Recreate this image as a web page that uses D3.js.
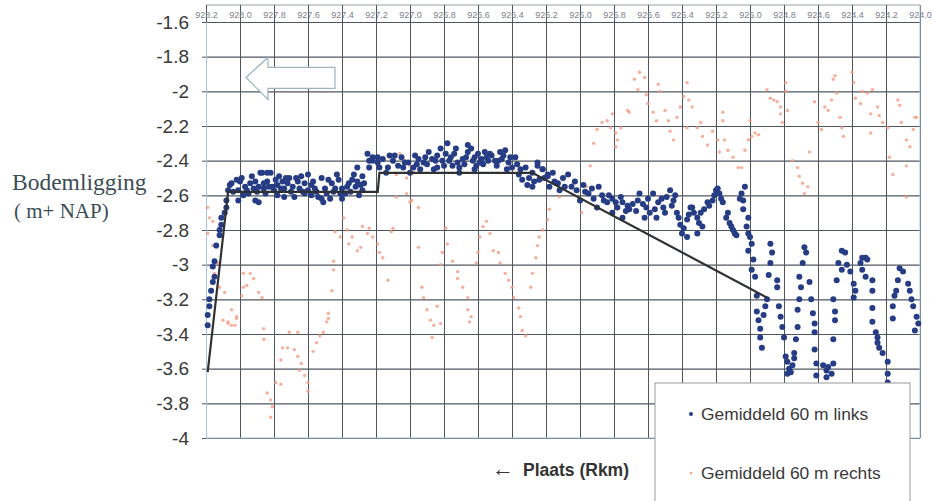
<!DOCTYPE html>
<html>
<head>
<meta charset="utf-8">
<script src="https://cdn.jsdelivr.net/npm/d3@7"></script>
<style>
  body { margin: 0; background: #fff; }
  svg { display: block; }
</style>
</head>
<body>
<svg id="chart" width="932" height="501"></svg>
<script>
// x axis: river km, decreasing to the right
const xTicks = [928.2, 928.0, 927.8, 927.6, 927.4, 927.2, 927.0, 926.8, 926.6, 926.4, 926.2,
  926.0, 925.8, 925.6, 925.4, 925.2, 925.0, 924.8, 924.6, 924.4, 924.2, 924.0];
const xTickLabels = ['928.2', '928.0', '927.8', '927.6', '927.4', '927.2', '927.0', '926.8', '926.6', '926.4', '926.2',
  '926.0', '925.8', '925.6', '925.4', '925.2', '925.0', '924.8', '924.6', '924.4', '924.2', '924.0'];
const yTicks = [-1.6, -1.8, -2, -2.2, -2.4, -2.6, -2.8, -3, -3.2, -3.4, -3.6, -3.8, -4];
const yTickLabels = ['-1.6', '-1.8', '-2', '-2.2', '-2.4', '-2.6', '-2.8', '-3', '-3.2', '-3.4', '-3.6', '-3.8', '-4'];

const seriesNames = ['Gemiddeld 60 m links', 'Gemiddeld 60 m rechts'];

// averaged bed level line
const avgLine = [[928.19, -3.62], [928.07, -2.58], [927.19, -2.58], [927.18, -2.47], [926.28, -2.47], [924.9, -3.19]];

// Gemiddeld 60 m links  [rkm, m NAP]
const links = [
  [928.19, -3.35], [928.19, -3.29], [928.18, -3.24], [928.18, -3.20], [928.17, -3.15], [928.16, -3.10],
  [928.15, -3.07], [928.16, -3.01], [928.15, -2.98], [928.14, -2.89], [928.12, -2.83], [928.12, -2.80],
  [928.11, -2.77], [928.11, -2.73], [928.09, -2.70], [928.08, -2.67], [928.08, -2.63], [928.07, -2.57],
  [928.06, -2.54],
  [928.05, -2.53], [928.02, -2.51], [927.99, -2.50], [927.97, -2.55], [927.94, -2.53], [927.93, -2.49],
  [927.91, -2.52], [927.89, -2.55], [927.87, -2.47], [927.86, -2.53], [927.84, -2.47], [927.84, -2.52],
  [927.81, -2.55], [927.79, -2.51], [927.78, -2.54], [927.75, -2.52], [927.74, -2.56], [927.72, -2.53],
  [927.71, -2.50], [927.69, -2.55], [927.66, -2.52], [927.64, -2.49], [927.62, -2.53], [927.60, -2.48],
  [927.58, -2.54], [927.56, -2.56], [927.54, -2.61], [927.52, -2.62], [927.51, -2.64], [927.49, -2.59],
  [927.48, -2.51], [927.46, -2.53], [927.44, -2.56], [927.42, -2.51], [927.40, -2.62], [927.38, -2.59],
  [927.36, -2.53], [927.34, -2.51], [927.32, -2.55], [927.31, -2.44], [927.31, -2.52], [927.28, -2.49],
  [927.28, -2.57], [927.89, -2.64], [927.68, -2.61], [927.78, -2.60], [928.01, -2.57], [927.95, -2.59],
  [927.85, -2.59], [927.74, -2.61], [927.62, -2.59], [927.91, -2.63], [928.01, -2.63], [927.88, -2.47],
  [927.82, -2.47], [927.96, -2.57], [927.90, -2.58], [927.80, -2.57], [927.70, -2.58], [927.60, -2.57],
  [927.55, -2.58], [927.45, -2.58], [927.40, -2.56], [927.35, -2.58], [927.30, -2.60], [927.77, -2.49],
  [927.67, -2.50], [927.52, -2.50], [927.43, -2.48], [927.58, -2.60], [927.65, -2.56], [927.86, -2.56],
  [927.98, -2.60], [927.27, -2.53], [928.04, -2.58], [928.00, -2.52], [927.92, -2.56], [927.83, -2.55],
  [927.76, -2.56], [927.73, -2.50], [927.63, -2.58], [927.57, -2.52], [927.50, -2.56], [927.47, -2.62],
  [927.41, -2.59], [927.37, -2.55], [927.33, -2.48], [927.29, -2.54],
  [927.25, -2.36], [927.24, -2.40], [927.22, -2.40], [927.19, -2.38], [927.24, -2.44],
  [927.22, -2.38], [927.19, -2.41], [927.16, -2.39], [927.13, -2.44], [927.10, -2.40], [927.07, -2.43],
  [927.04, -2.44], [927.01, -2.41], [926.98, -2.44], [926.95, -2.39], [926.92, -2.41], [926.89, -2.35],
  [926.87, -2.39], [926.84, -2.37], [926.82, -2.33], [926.81, -2.40], [926.78, -2.30], [926.76, -2.38],
  [926.75, -2.43], [926.72, -2.41], [926.71, -2.44], [926.69, -2.39], [926.66, -2.35], [926.64, -2.33],
  [926.62, -2.38], [926.60, -2.36], [926.58, -2.39], [926.56, -2.35], [926.54, -2.40], [926.52, -2.37],
  [926.49, -2.43], [926.46, -2.39], [926.44, -2.34], [926.42, -2.41], [926.40, -2.44], [926.38, -2.38],
  [926.36, -2.48], [926.34, -2.51], [926.32, -2.44], [926.31, -2.54], [926.28, -2.47], [926.25, -2.43],
  [926.22, -2.45], [926.19, -2.48], [927.00, -2.47], [926.84, -2.44], [926.71, -2.47], [927.14, -2.47],
  [926.94, -2.45], [926.61, -2.43], [927.05, -2.38], [926.97, -2.37], [926.90, -2.42], [926.86, -2.45],
  [926.79, -2.36], [926.74, -2.36], [926.68, -2.42], [926.63, -2.40], [926.57, -2.42], [926.53, -2.36],
  [926.48, -2.40], [926.45, -2.37], [926.43, -2.45], [927.12, -2.37], [927.18, -2.44], [926.80, -2.43],
  [926.66, -2.31], [926.62, -2.45], [927.09, -2.37], [927.03, -2.41], [926.96, -2.42], [926.91, -2.38],
  [926.85, -2.40], [926.77, -2.40], [926.73, -2.33], [926.67, -2.38], [926.59, -2.41], [926.55, -2.38],
  [926.50, -2.40], [926.47, -2.35], [926.41, -2.38], [926.37, -2.42], [926.35, -2.45], [926.30, -2.50],
  [926.27, -2.52], [926.21, -2.50],
  [926.28, -2.55], [926.25, -2.41], [926.22, -2.45], [926.19, -2.49], [926.16, -2.47], [926.13, -2.53],
  [926.10, -2.50], [926.07, -2.48], [926.05, -2.55], [926.02, -2.57], [925.98, -2.54], [925.95, -2.59],
  [925.92, -2.62], [925.89, -2.55], [925.87, -2.60], [925.84, -2.64], [925.81, -2.62], [925.78, -2.67],
  [925.75, -2.64], [925.72, -2.66], [925.71, -2.68], [925.66, -2.63], [925.65, -2.59], [925.61, -2.67],
  [925.59, -2.70], [925.57, -2.59], [925.54, -2.64], [925.51, -2.67], [925.49, -2.61], [925.47, -2.57],
  [925.45, -2.63], [925.43, -2.70], [925.41, -2.77], [925.40, -2.82], [925.37, -2.74], [925.35, -2.67],
  [925.34, -2.67], [925.31, -2.73], [925.29, -2.70], [925.28, -2.78], [925.25, -2.64], [925.22, -2.63],
  [925.19, -2.56], [925.18, -2.59], [925.16, -2.64], [925.14, -2.73], [925.12, -2.76], [925.10, -2.80],
  [925.08, -2.83], [925.05, -2.59], [925.04, -2.63], [925.03, -2.55], [925.01, -2.73], [925.00, -2.84],
  [926.24, -2.51], [926.18, -2.55], [926.12, -2.57], [926.00, -2.63], [925.90, -2.67], [925.81, -2.70],
  [925.75, -2.73], [925.62, -2.73], [925.55, -2.73], [925.37, -2.84], [925.31, -2.82],
  [926.15, -2.52], [926.09, -2.55], [926.03, -2.52], [925.97, -2.58], [925.93, -2.56], [925.86, -2.63],
  [925.83, -2.60], [925.79, -2.64], [925.76, -2.61], [925.73, -2.69], [925.69, -2.65], [925.67, -2.69],
  [925.63, -2.65], [925.60, -2.62], [925.56, -2.68], [925.52, -2.62], [925.50, -2.70], [925.46, -2.66],
  [925.44, -2.60], [925.42, -2.73], [925.39, -2.79], [925.36, -2.71], [925.33, -2.70], [925.30, -2.76],
  [925.27, -2.68], [925.24, -2.66], [925.21, -2.60], [925.20, -2.57], [925.17, -2.62], [925.13, -2.70],
  [925.11, -2.78], [925.09, -2.82], [925.06, -2.62], [925.04, -2.68], [925.02, -2.78],
  [925.01, -2.82], [924.99, -2.88], [924.98, -2.97], [924.97, -3.07], [924.96, -3.18], [924.96, -3.27],
  [924.95, -3.32], [924.94, -3.37], [924.94, -3.42], [924.93, -3.48], [925.01, -2.92], [924.99, -3.03],
  [924.88, -2.88], [924.87, -2.93], [924.88, -2.99], [924.89, -3.06], [924.84, -3.09], [924.84, -3.13],
  [924.90, -3.20], [924.91, -3.24], [924.92, -3.29], [924.83, -3.24], [924.82, -3.30], [924.81, -3.36],
  [924.80, -3.42],
  [924.79, -3.53], [924.78, -3.56], [924.77, -3.60], [924.76, -3.62], [924.75, -3.58], [924.78, -3.63],
  [924.68, -2.90], [924.67, -2.93], [924.69, -2.99], [924.71, -3.07], [924.70, -3.13], [924.71, -3.20],
  [924.72, -3.26], [924.72, -3.36], [924.73, -3.43], [924.74, -3.51], [924.74, -3.54],
  [924.65, -3.10], [924.64, -3.20], [924.63, -3.28], [924.62, -3.34], [924.62, -3.39], [924.62, -3.49],
  [924.61, -3.57], [924.61, -3.64],
  [924.57, -3.58], [924.55, -3.61], [924.54, -3.59], [924.52, -3.63], [924.55, -3.65], [924.51, -3.57],
  [924.51, -3.20], [924.50, -3.27], [924.50, -3.32], [924.51, -3.43],
  [924.46, -2.92], [924.44, -2.93], [924.48, -2.99], [924.46, -3.03], [924.49, -3.09], [924.43, -3.00],
  [924.41, -3.04], [924.39, -3.11], [924.38, -3.15], [924.39, -3.19], [924.35, -2.99], [924.34, -2.96],
  [924.32, -2.96], [924.31, -2.97], [924.34, -3.03], [924.32, -3.07], [924.28, -3.09], [924.28, -3.15],
  [924.28, -3.25], [924.28, -3.33],
  [924.26, -3.39], [924.25, -3.42], [924.25, -3.45], [924.24, -3.48], [924.22, -3.51], [924.19, -3.56],
  [924.19, -3.63], [924.19, -3.68],
  [924.12, -3.02], [924.10, -3.04], [924.13, -3.09], [924.14, -3.15], [924.15, -3.18], [924.16, -3.24],
  [924.16, -3.31], [924.07, -3.11], [924.06, -3.15], [924.05, -3.20], [924.04, -3.24], [924.02, -3.30],
  [924.01, -3.34], [924.03, -3.38]
];

// Gemiddeld 60 m rechts  [rkm, m NAP]
const rechts = [
  [928.19, -2.67], [928.18, -2.73], [928.19, -2.82], [928.16, -2.89], [928.14, -2.90], [928.13, -2.99],
  [928.15, -3.05], [928.12, -3.13], [928.09, -3.16], [928.07, -3.33], [928.10, -3.32], [928.05, -3.35],
  [928.02, -3.30], [928.16, -2.75], [927.98, -3.05], [927.94, -3.05], [927.92, -3.08], [927.96, -3.12],
  [927.99, -3.18], [927.89, -3.16], [927.87, -3.19], [927.98, -3.13], [928.05, -3.26], [928.02, -3.31],
  [928.03, -3.35], [928.07, -3.34], [927.86, -3.37], [927.86, -3.43], [927.84, -3.74], [927.82, -3.78],
  [927.81, -3.82], [927.82, -3.88], [927.79, -3.68], [927.76, -3.69], [927.76, -3.55], [927.75, -3.48],
  [927.72, -3.48], [927.71, -3.39], [927.66, -3.39], [927.68, -3.49], [927.66, -3.53], [927.64, -3.57],
  [927.62, -3.64], [927.60, -3.68], [927.60, -3.73], [927.65, -3.61], [927.57, -3.50], [927.55, -3.45],
  [927.53, -3.41], [927.51, -3.39], [927.49, -3.33], [927.48, -3.31], [927.48, -3.28], [927.46, -3.15],
  [927.45, -3.03], [927.45, -2.98], [927.44, -2.81], [927.41, -2.84], [927.39, -2.73], [927.37, -2.80],
  [927.36, -2.88], [927.34, -2.84], [927.31, -2.92], [927.29, -2.90], [927.28, -2.78], [927.25, -2.82],
  [927.24, -2.79], [927.22, -2.84], [927.19, -2.88], [927.18, -2.93], [927.16, -2.96], [927.13, -3.09],
  [927.11, -2.81], [927.10, -2.79],
  [927.06, -2.36], [927.03, -2.40], [927.00, -2.43], [926.98, -2.47], [927.02, -2.50], [927.08, -2.48],
  [927.02, -2.59], [927.00, -2.64], [927.08, -2.61], [926.99, -2.63], [926.95, -2.67], [926.95, -2.90],
  [926.93, -3.13], [926.92, -3.19], [926.90, -3.26], [926.88, -3.32], [926.86, -3.35], [926.82, -3.34],
  [926.84, -3.24], [926.87, -3.42], [926.82, -3.00], [926.81, -2.93], [926.78, -2.88], [926.79, -2.79],
  [926.75, -2.98], [926.72, -3.04], [926.72, -3.08], [926.69, -3.13], [926.66, -3.19], [926.66, -3.26],
  [926.64, -3.30], [926.65, -3.33], [926.61, -2.99], [926.60, -2.93], [926.59, -2.84], [926.57, -2.78],
  [926.55, -2.75], [926.53, -2.82], [926.51, -2.92], [926.48, -2.93], [926.47, -2.99], [926.44, -3.05],
  [926.42, -3.09], [926.40, -3.13], [926.39, -3.19], [926.36, -3.25], [926.35, -3.30], [926.34, -3.38],
  [926.32, -3.41], [926.29, -3.13], [926.28, -3.05], [926.26, -2.96], [926.25, -2.89], [926.24, -2.84],
  [926.22, -2.80], [926.19, -2.74],
  [926.18, -2.68], [926.12, -2.61], [926.08, -2.55], [926.04, -2.53], [926.00, -2.63], [925.99, -2.70],
  [925.96, -2.55], [925.94, -2.43], [925.92, -2.30], [925.90, -2.22], [925.87, -2.18], [925.84, -2.17],
  [925.82, -2.21], [925.81, -2.13], [925.79, -2.24], [925.78, -2.28], [925.76, -2.21], [925.79, -2.32],
  [925.72, -2.11], [925.71, -2.12], [925.68, -1.93], [925.66, -1.99], [925.65, -1.89], [925.62, -1.92],
  [925.61, -2.02], [925.60, -2.07], [925.57, -2.12], [925.55, -2.17], [925.54, -1.96], [925.53, -2.00],
  [925.50, -2.11], [925.48, -2.17], [925.47, -2.23], [925.45, -2.28], [925.43, -2.15], [925.41, -2.09],
  [925.39, -2.03], [925.37, -1.95], [925.36, -2.05], [925.34, -2.09], [925.37, -2.21], [925.31, -2.21],
  [925.29, -2.18], [925.28, -2.26], [925.25, -2.31], [925.22, -2.23], [925.19, -2.28], [925.18, -2.35],
  [925.16, -2.12], [925.16, -2.17], [925.15, -2.28], [925.13, -2.34], [925.10, -2.38], [925.07, -2.44],
  [925.05, -2.44], [925.03, -2.34], [925.01, -2.28], [924.99, -2.26], [924.97, -2.24], [924.95, -2.25],
  [925.00, -2.17], [924.90, -1.99], [924.88, -2.04], [924.86, -2.05], [924.84, -2.06], [924.82, -2.09],
  [924.79, -1.95], [924.79, -2.00], [924.78, -2.11], [924.82, -2.13], [924.81, -2.18], [924.75, -2.40],
  [924.72, -2.44], [924.71, -2.49], [924.69, -2.53], [924.66, -2.55], [924.68, -2.59], [924.65, -2.35],
  [924.62, -2.06], [924.60, -2.18], [924.58, -2.22], [924.56, -2.09], [924.54, -2.11], [924.52, -2.05],
  [924.51, -1.93], [924.50, -1.91], [924.49, -2.01], [924.47, -2.15], [924.46, -2.21], [924.45, -2.26],
  [924.40, -1.89], [924.39, -1.95], [924.38, -2.04], [924.35, -2.07], [924.34, -2.00], [924.31, -2.01],
  [924.28, -1.99], [924.29, -2.13], [924.25, -2.09], [924.24, -2.14], [924.22, -2.18], [924.29, -2.24],
  [924.19, -2.21], [924.13, -2.05], [924.12, -2.08], [924.11, -2.18], [924.08, -2.28], [924.06, -2.32],
  [924.04, -2.22], [924.03, -2.15], [924.02, -2.15], [924.18, -2.38], [924.16, -2.48], [924.08, -2.43],
  [924.08, -2.61]
];

const colors = { links: '#263c85', rechts: '#f59b82', grid: '#50565f', frame: '#a9c6d6', text: '#333' };

const svg = d3.select('#chart');
const plotLeft = 206, plotRight = 920, plotTop = 22, plotBottom = 438, frameTop = 5;

const x = d3.scaleLinear().domain([928.2, 924.0]).range([plotLeft, plotRight]);
const y = d3.scaleLinear().domain([-1.6, -4]).range([plotTop, plotBottom]);

// outer frame line above the km labels
svg.append('line')
  .attr('x1', plotLeft).attr('x2', plotRight).attr('y1', frameTop).attr('y2', frameTop)
  .attr('stroke', '#9aa0a8').attr('stroke-width', 1);

// vertical grid
svg.append('g')
  .attr('transform', 'translate(0,' + plotBottom + ')')
  .call(d3.axisBottom(x).tickValues(xTicks).tickSize(-(plotBottom - frameTop)).tickFormat(''))
  .call(g => g.select('.domain').remove())
  .call(g => g.selectAll('.tick line').attr('stroke', colors.grid).attr('stroke-width', 1));

// horizontal grid
svg.append('g')
  .attr('transform', 'translate(' + plotLeft + ',0)')
  .call(d3.axisLeft(y).tickValues(yTicks).tickSize(-(plotRight - plotLeft)).tickFormat(''))
  .call(g => g.select('.domain').remove())
  .call(g => g.selectAll('.tick line').attr('stroke', colors.grid).attr('stroke-width', 1.1));

// y axis with labels
svg.append('g')
  .attr('transform', 'translate(' + plotLeft + ',0)')
  .call(d3.axisLeft(y).tickValues(yTicks).tickSize(4).tickPadding(13).tickFormat((d, i) => yTickLabels[i]))
  .call(g => g.select('.domain').attr('stroke', colors.frame))
  .call(g => g.selectAll('.tick line').attr('stroke', colors.grid))
  .call(g => g.selectAll('.tick text')
    .attr('fill', '#3a3a3a')
    .style('font-family', 'Liberation Sans, Arial, sans-serif')
    .style('font-size', '19px'));

// bottom and right frame
svg.append('line').attr('x1', plotLeft).attr('x2', plotRight).attr('y1', plotBottom).attr('y2', plotBottom)
  .attr('stroke', colors.frame).attr('stroke-width', 1.2);
svg.append('line').attr('x1', plotRight).attr('x2', plotRight).attr('y1', frameTop).attr('y2', plotBottom)
  .attr('stroke', colors.frame).attr('stroke-width', 1);

// km labels on top
svg.append('g')
  .attr('transform', 'translate(0,19)')
  .call(d3.axisTop(x).tickValues(xTicks).tickSize(0).tickPadding(1).tickFormat((d, i) => xTickLabels[i]))
  .call(g => g.select('.domain').remove())
  .call(g => g.selectAll('.tick text')
    .attr('fill', '#7c828a')
    .style('font-family', 'Liberation Sans, Arial, sans-serif')
    .style('font-size', '9px'));

// hollow arrow (direction of flow)
const arrowTip = [927.965, -1.92];
const ax = x(arrowTip[0]), ay = y(arrowTip[1]);
svg.append('path')
  .attr('d', 'M' + ax + ',' + ay + ' l22,-20 v10 h67 v21 h-67 v11 z')
  .attr('fill', '#fff').attr('stroke', '#9fb3bf').attr('stroke-width', 1.2);

// scatter: rechts first, links on top
svg.append('g').selectAll('circle')
  .data(rechts).join('circle')
  .attr('cx', d => x(d[0])).attr('cy', d => y(d[1]))
  .attr('r', 1.7)
  .attr('fill', colors.rechts).attr('fill-opacity', 0.8);

svg.append('g').selectAll('circle')
  .data(links).join('circle')
  .attr('cx', d => x(d[0])).attr('cy', d => y(d[1]))
  .attr('r', 3)
  .attr('fill', colors.links);

// averaged line
svg.append('path')
  .datum(avgLine)
  .attr('d', d3.line().x(d => x(d[0])).y(d => y(d[1])))
  .attr('fill', 'none').attr('stroke', '#2f3133').attr('stroke-width', 2.2);

// y title
const yTitle = svg.append('text')
  .attr('fill', '#3b4d55')
  .style('font-family', 'Liberation Serif, Times New Roman, serif');
yTitle.append('tspan').attr('x', 12).attr('y', 190).style('font-size', '23.5px').text('Bodemligging');
yTitle.append('tspan').attr('x', 14).attr('y', 218).style('font-size', '21px').text('( m+ NAP)');

// x title
const xTitle = svg.append('text')
  .attr('y', 476)
  .attr('fill', colors.text)
  .style('font-family', 'Liberation Sans, Arial, sans-serif')
  .style('font-weight', 'bold');
xTitle.append('tspan').attr('x', 492).style('font-size', '22px').style('font-weight', 'normal').text('\u2190');
xTitle.append('tspan').attr('x', 523).style('font-size', '17.5px').text('Plaats (Rkm)');

// legend
const legend = svg.append('g').attr('transform', 'translate(655,383)');
legend.append('rect')
  .attr('width', 255).attr('height', 130)
  .attr('fill', '#fff').attr('stroke', '#9a9a9a').attr('stroke-width', 1);
const items = legend.selectAll('g.item')
  .data(seriesNames).join('g')
  .attr('class', 'item')
  .attr('transform', (d, i) => 'translate(0,' + (31 + i * 59) + ')');
items.append('circle')
  .attr('cx', 36).attr('cy', 0)
  .attr('r', (d, i) => i === 0 ? 2 : 1.2)
  .attr('fill', (d, i) => i === 0 ? colors.links : colors.rechts);
items.append('text')
  .attr('x', 46).attr('dy', '0.35em')
  .attr('fill', '#3a3a3a')
  .style('font-family', 'Liberation Sans, Arial, sans-serif')
  .style('font-size', '17.4px')
  .text(d => d);
</script>
</body>
</html>
